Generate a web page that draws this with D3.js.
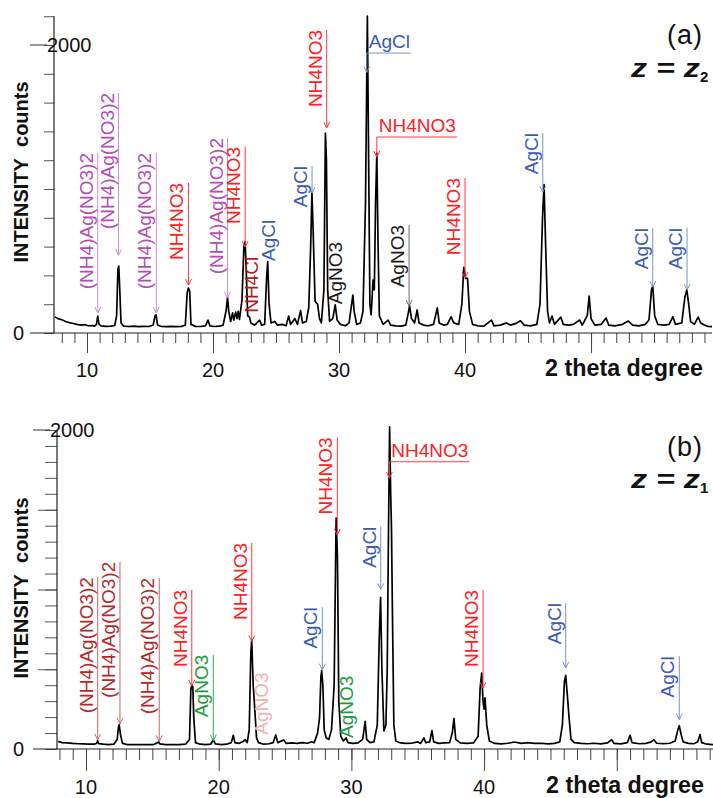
<!DOCTYPE html>
<html>
<head>
<meta charset="utf-8">
<script src="https://cdn.jsdelivr.net/npm/d3@7"></script>
<style>
  body { margin: 0; background: #fff; }
  svg { display: block; font-family: 'Liberation Sans', Arial, sans-serif; }
</style>
</head>
<body>
<svg id="chart" width="713" height="798"></svg>
<script>
// ---
// Data
// ---

// panel (a), z = z2 : [2 theta, counts]
const traceA = [
  [7.45, 112], [7.7, 100], [8.0, 92], [8.3, 80], [8.6, 72], [8.9, 66], [9.2, 60], [9.5, 55], [9.8, 58],
  [10.1, 50], [10.4, 52], [10.6, 48], [10.75, 60], [10.85, 118], [10.95, 62], [11.1, 50], [11.5, 46],
  [11.9, 48], [12.2, 52], [12.35, 120], [12.45, 440], [12.52, 465], [12.6, 300], [12.7, 70], [12.9, 48],
  [13.3, 45], [13.7, 48], [14.1, 44], [14.5, 46], [14.9, 45], [15.25, 55], [15.4, 120], [15.48, 125],
  [15.6, 55], [15.9, 45], [16.3, 44], [16.7, 46], [17.1, 44], [17.5, 46], [17.8, 55], [17.95, 280],
  [18.05, 312], [18.15, 290], [18.25, 60], [18.6, 46], [19.0, 45], [19.4, 50], [19.6, 90], [19.75, 50],
  [20.1, 45], [20.5, 48], [20.8, 55], [21.05, 160], [21.15, 250], [21.25, 150], [21.4, 80], [21.55, 140],
  [21.65, 90], [21.8, 145], [21.9, 100], [22.0, 150], [22.1, 95], [22.3, 230], [22.45, 600], [22.55, 634],
  [22.65, 400], [22.75, 120], [22.9, 110], [23.0, 70], [23.3, 55], [23.7, 90], [23.85, 55], [24.1, 60],
  [24.25, 380], [24.34, 495], [24.45, 200], [24.6, 70], [24.9, 80], [25.1, 55], [25.5, 60], [25.8, 50],
  [26.0, 118], [26.15, 60], [26.5, 100], [26.7, 60], [26.95, 155], [27.1, 70], [27.4, 80], [27.6, 180],
  [27.75, 600], [27.85, 975], [27.95, 700], [28.1, 220], [28.3, 200], [28.45, 100], [28.6, 70], [28.8, 300],
  [28.92, 1389], [29.0, 1200], [29.1, 300], [29.25, 80], [29.5, 100], [29.7, 195], [29.85, 90], [30.1, 60],
  [30.5, 50], [30.8, 70], [31.0, 200], [31.1, 264], [31.2, 150], [31.4, 60], [31.7, 70], [31.9, 150],
  [32.1, 900], [32.25, 2200], [32.35, 1200], [32.45, 200], [32.55, 125], [32.7, 368], [32.8, 300],
  [32.9, 900], [33.0, 1250], [33.1, 600], [33.2, 120], [33.5, 60], [33.9, 90], [34.1, 55], [34.5, 50],
  [34.9, 48], [35.3, 55], [35.5, 140], [35.6, 188], [35.75, 100], [36.0, 70], [36.2, 160], [36.35, 70],
  [36.7, 55], [37.1, 50], [37.5, 60], [37.8, 174], [37.95, 70], [38.3, 55], [38.6, 60], [38.9, 113],
  [39.1, 70], [39.5, 60], [39.75, 200], [39.9, 456], [40.05, 380], [40.2, 380], [40.35, 150], [40.6, 60],
  [41.0, 50], [41.5, 48], [42.1, 90], [42.3, 50], [42.8, 55], [43.3, 70], [43.6, 55], [44.0, 65],
  [44.4, 85], [44.7, 55], [45.2, 50], [45.7, 60], [45.95, 200], [46.15, 800], [46.27, 1030], [46.4, 600],
  [46.55, 150], [46.7, 70], [46.9, 118], [47.1, 60], [47.6, 110], [47.8, 60], [48.2, 55], [48.6, 60],
  [49.1, 90], [49.3, 55], [49.7, 120], [49.85, 257], [50.0, 100], [50.3, 55], [50.8, 60], [51.2, 104],
  [51.4, 55], [51.9, 50], [52.5, 60], [52.96, 83], [53.3, 55], [53.8, 50], [54.3, 60], [54.6, 90],
  [54.8, 300], [54.9, 326], [55.05, 120], [55.3, 60], [55.8, 55], [56.2, 60], [56.5, 113], [56.7, 60],
  [57.2, 70], [57.45, 250], [57.6, 299], [57.75, 200], [57.9, 80], [58.2, 60], [58.5, 111], [58.7, 70],
  [59.0, 55], [59.3, 45], [59.6, 44]
]

// panel (b), z = z1 : [2 theta, counts]
const traceB = [
  [7.9, 48], [8.2, 40], [8.6, 38], [9.0, 35], [9.4, 33], [9.8, 32], [10.2, 30], [10.6, 30], [10.8, 35],
  [10.88, 52], [10.96, 34], [11.3, 30], [11.7, 28], [12.1, 30], [12.35, 60], [12.45, 140], [12.5, 152],
  [12.6, 90], [12.75, 35], [13.1, 28], [13.6, 27], [14.1, 28], [14.6, 27], [15.1, 28], [15.4, 40],
  [15.48, 44], [15.56, 32], [16.0, 27], [16.5, 28], [17.0, 27], [17.5, 30], [17.8, 60], [17.9, 370],
  [17.97, 400], [18.05, 390], [18.12, 200], [18.25, 40], [18.6, 30], [19.0, 28], [19.4, 30], [19.6, 58],
  [19.75, 32], [20.2, 28], [20.6, 30], [20.95, 40], [21.1, 86], [21.22, 40], [21.5, 35], [21.8, 45],
  [22.0, 58], [22.15, 40], [22.3, 121], [22.42, 600], [22.49, 685], [22.6, 400], [22.72, 250], [22.85, 70],
  [23.0, 40], [23.4, 30], [23.8, 33], [24.1, 40], [24.3, 88], [24.45, 40], [24.9, 56], [25.1, 35],
  [25.5, 38], [25.9, 35], [26.3, 40], [26.7, 36], [27.0, 45], [27.2, 40], [27.45, 100], [27.6, 194],
  [27.7, 450], [27.76, 491], [27.85, 400], [27.95, 120], [28.1, 70], [28.3, 60], [28.5, 120], [28.7, 400],
  [28.85, 1448], [28.95, 1200], [29.05, 300], [29.2, 80], [29.4, 50], [29.6, 69], [29.75, 40], [30.1, 35],
  [30.5, 38], [30.85, 60], [31.04, 174], [31.15, 60], [31.4, 40], [31.7, 45], [31.95, 150], [32.1, 700],
  [32.2, 950], [32.3, 500], [32.45, 113], [32.6, 150], [32.7, 500], [32.8, 1400], [32.88, 2020],
  [32.96, 1600], [33.02, 1390], [33.1, 800], [33.2, 150], [33.35, 50], [33.7, 38], [34.1, 35], [34.5, 36],
  [35.0, 45], [35.2, 35], [35.47, 69], [35.6, 40], [35.9, 45], [36.07, 115], [36.2, 45], [36.6, 35],
  [37.0, 38], [37.4, 40], [37.6, 100], [37.73, 190], [37.86, 60], [38.2, 38], [38.7, 35], [39.2, 38],
  [39.55, 80], [39.7, 380], [39.82, 476], [39.92, 300], [40.0, 250], [40.07, 320], [40.2, 150], [40.4, 50],
  [40.8, 35], [41.3, 32], [41.8, 36], [42.3, 44], [42.8, 35], [43.3, 40], [43.8, 35], [44.3, 36],
  [44.8, 32], [45.3, 35], [45.7, 45], [45.9, 150], [46.05, 420], [46.15, 462], [46.28, 330], [46.4, 200],
  [46.55, 60], [46.8, 40], [47.3, 35], [47.8, 33], [48.3, 36], [48.8, 32], [49.3, 38], [49.6, 58],
  [49.8, 35], [50.3, 32], [50.8, 40], [51.0, 86], [51.15, 40], [51.7, 33], [52.2, 35], [52.6, 45],
  [52.8, 58], [53.0, 36], [53.5, 34], [54.0, 36], [54.4, 50], [54.6, 120], [54.71, 146], [54.85, 90],
  [55.0, 45], [55.4, 35], [55.8, 33], [56.1, 45], [56.27, 90], [56.4, 40], [56.8, 30], [57.25, 27]
]

// phase marks with a drop line: [label, phase, 2 theta, line top (counts), arrow tip (counts)]
const marksA = [
  ['(NH4)Ag(NO3)2', 'amn', 10.85, 1250, 139],
  ['(NH4)Ag(NO3)2', 'amn', 12.5, 1667, 540],
  ['(NH4)Ag(NO3)2', 'amn', 15.5, 1250, 139],
  ['NH4NO3', 'nit', 18.05, 1042, 333],
  ['(NH4)Ag(NO3)2', 'amn', 21.15, 1354, 243],
  ['NH4NO3', 'nit', 22.55, 1292, 597],
  ['AgCl', 'agcl', 27.86, 1160, 972],
  ['NH4NO3', 'nit', 29.02, 2104, 1424],
  ['AgNO3', 'agno', 35.56, 750, 188],
  ['NH4NO3', 'nit', 40.0, 1076, 382],
  ['AgCl', 'agcl', 46.17, 1389, 979],
  ['AgCl', 'agcl', 54.9, 729, 319],
  ['AgCl', 'agcl', 57.62, 729, 299]
]
const marksB = [
  ['(NH4)Ag(NO3)2', 'amnB', 10.88, 1078, 58],
  ['(NH4)Ag(NO3)2', 'amnB', 12.56, 1174, 157],
  ['(NH4)Ag(NO3)2', 'amnB', 15.52, 1072, 48],
  ['NH4NO3', 'nit', 17.97, 997, 395],
  ['AgNO3', 'agnoG', 19.59, 591, 52],
  ['NH4NO3', 'nit', 22.49, 1292, 675],
  ['AgCl', 'agcl', 27.81, 888, 497],
  ['NH4NO3', 'nit', 28.94, 1954, 1342],
  ['AgCl', 'agcl', 32.21, 1394, 1001],
  ['NH4NO3', 'nit', 39.92, 997, 382],
  ['AgCl', 'agcl', 46.15, 915, 508],
  ['AgCl', 'agcl', 54.71, 581, 184]
]

// horizontal flags: [label, phase, 2 theta, underline (counts), arrow tip (counts)]
const flagsA = [
  ['AgCl', 'agcl', 32.2, 1944, 1810],
  ['NH4NO3', 'nit', 33.0, 1361, 1222]
]
const flagsB = [
  ['NH4NO3', 'nit', 32.86, 1801, 1699]
]

// bare labels: [label, phase, 2 theta of baseline, bottom (counts)]
const tagsA = [
  ['NH4Cl', 'nh4cl', 23.6, 140],
  ['AgCl', 'agcl', 24.9, 500],
  ['AgNO3', 'agno', 30.2, 200]
]
const tagsB = [
  ['AgNO3', 'agnoP', 23.72, 90],
  ['AgNO3', 'agnoG', 30.12, 69]
]

const xMajor = [10, 20, 30, 40, 50]
const xLabels = [10, 20, 30, 40]

// ---
// Styles
// ---
const textColor = {
  nit: '#ff2121', agcl: '#3a5ab4', amn: '#b44cb4', amnB: '#b32a2a',
  agno: '#1a1a1a', agnoG: '#1c9c3a', agnoP: '#f4b2b2', nh4cl: '#b31818'
}
const lineColor = {
  nit: '#ff3b3b', agcl: '#7892cf', amn: '#d48cd4', amnB: '#c86868',
  agno: '#6a6a6a', agnoG: '#3aa856'
}

const svg = d3.select('#chart')

function drawPanel (p) {
  const g = svg.append('g')
  const x = d3.scaleLinear().domain(p.xDomain).range(p.xRange)
  const y = d3.scaleLinear().domain(p.yDomain).range(p.yRange)
  const x0 = p.xRange[0]
  const y0 = y(0)

  // y ticks
  g.append('g')
      .attr('transform', `translate(${x0},0)`)
      .call(d3.axisLeft(y).tickValues(p.yMinor).tickSize(p.yMinorLen).tickFormat('').tickSizeOuter(0))
      .call(a => a.select('.domain').remove())
      .call(a => a.selectAll('line').attr('stroke', '#555'))
  if (p.yMajor.length) {
    g.append('g')
        .attr('transform', `translate(${x0},0)`)
        .call(d3.axisLeft(y).tickValues(p.yMajor).tickSize(p.yMajorLen).tickFormat('').tickSizeOuter(0))
        .call(a => a.select('.domain').remove())
        .call(a => a.selectAll('line').attr('stroke', '#555'))
  }

  // x ticks
  const minor = d3.range(8, 60).filter(v => v > p.xDomain[0] && v < p.xDomain[1])
  g.append('g')
      .attr('transform', `translate(0,${y0})`)
      .call(d3.axisBottom(x).tickValues(minor).tickSize(p.xMinorLen).tickFormat('').tickSizeOuter(0))
      .call(a => a.select('.domain').remove())
      .call(a => a.selectAll('line').attr('stroke', '#444'))
  g.append('g')
      .attr('transform', `translate(0,${y0})`)
      .call(d3.axisBottom(x).tickValues(xMajor).tickSize(p.xMajorLen).tickFormat('').tickSizeOuter(0))
      .call(a => a.select('.domain').remove())
      .call(a => a.selectAll('line').attr('stroke', '#444'))

  // axis lines
  g.append('line')
      .attr('x1', x0).attr('x2', x0)
      .attr('y1', p.yRange[1]).attr('y2', y0)
      .attr('stroke', '#222').attr('stroke-width', 1.2)
  g.append('line')
      .attr('x1', p.axisStart).attr('x2', p.xRange[1])
      .attr('y1', y0).attr('y2', y0)
      .attr('stroke', '#222').attr('stroke-width', 1.2)
  g.append('line')
      .attr('x1', p.axisStart).attr('x2', p.axisStart + 17)
      .attr('y1', y(2000)).attr('y2', y(2000))
      .attr('stroke', '#333').attr('stroke-width', 1)

  // tick labels
  g.selectAll('.xlab')
    .data(xLabels)
    .enter()
      .append('text')
      .attr('x', d => x(d))
      .attr('y', y0 + p.xLabelDy)
      .attr('text-anchor', 'middle')
      .attr('font-size', 20)
      .attr('fill', '#111')
      .text(d => d)
  g.append('text')
      .attr('x', 13).attr('y', y0 + 7)
      .attr('font-size', 20).attr('fill', '#111')
      .text('0')
  g.append('text')
      .attr('x', p.axisStart + 17).attr('y', y(2000) + 7)
      .attr('font-size', 20).attr('fill', '#111')
      .text('2000')

  // axis titles
  g.append('text')
      .attr('x', p.xRange[1] - 9).attr('y', y0 + p.xLabelDy - 1)
      .attr('text-anchor', 'end')
      .attr('font-size', 23).attr('font-weight', 'bold').attr('fill', '#111')
      .attr('textLength', 158).attr('lengthAdjust', 'spacingAndGlyphs')
      .text('2 theta degree')
  g.append('text')
      .attr('transform', `translate(28,${p.titleY}) rotate(-90)`)
      .attr('text-anchor', 'middle')
      .attr('font-size', 20).attr('font-weight', 'bold').attr('fill', '#111')
      .text('INTENSITY\u00a0\u00a0counts')

  // panel tag
  g.append('text')
      .attr('x', 703).attr('y', p.tagY)
      .attr('text-anchor', 'end')
      .attr('font-size', 27).attr('fill', '#111')
      .attr('letter-spacing', 1)
      .text(p.tag)
  g.append('text')
      .attr('x', 631).attr('y', p.zY)
      .attr('font-size', 26).attr('font-weight', 'bold').attr('font-style', 'italic').attr('fill', '#111')
      .attr('textLength', 69).attr('lengthAdjust', 'spacingAndGlyphs')
      .text('z = z')
  g.append('text')
      .attr('x', 700).attr('y', p.zY + 5)
      .attr('font-size', 15).attr('font-weight', 'bold').attr('fill', '#111')
      .text(p.zSub)

  // trace
  g.append('path')
      .datum(p.trace)
      .attr('fill', 'none')
      .attr('stroke', '#000')
      .attr('stroke-width', 1.7)
      .attr('stroke-linejoin', 'round')
      .attr('d', d3.line().x(d => x(d[0])).y(d => y(d[1])))

  const arrow = (sel, lx, ty, color) => sel.append('path')
      .attr('d', `M${lx - 3},${ty - 6}L${lx},${ty}L${lx + 3},${ty - 6}`)
      .attr('fill', 'none').attr('stroke', color).attr('stroke-width', 1)

  // vertical marks
  p.marks.forEach(([label, phase, t, top, tip]) => {
    const lx = x(t)
    g.append('line')
        .attr('x1', lx).attr('x2', lx)
        .attr('y1', y(top)).attr('y2', y(tip))
        .attr('stroke', lineColor[phase]).attr('stroke-width', 1)
    arrow(g, lx, y(tip), lineColor[phase])
    g.append('text')
        .attr('transform', `translate(${lx - 5},${y(top)}) rotate(-90)`)
        .attr('text-anchor', 'end')
        .attr('font-size', 19)
        .attr('fill', textColor[phase])
        .text(label)
  })

  // horizontal flags
  p.flags.forEach(([label, phase, t, under, tip]) => {
    const lx = x(t)
    const uy = y(under)
    const txt = g.append('text')
        .attr('x', lx + 2).attr('y', uy - 5)
        .attr('font-size', 19)
        .attr('fill', textColor[phase])
        .text(label)
    const w = txt.node().getComputedTextLength()
    g.append('path')
        .attr('d', `M${lx + w + 3},${uy}H${lx}V${y(tip)}`)
        .attr('fill', 'none').attr('stroke', lineColor[phase]).attr('stroke-width', 1)
    arrow(g, lx, y(tip), lineColor[phase])
  })

  // bare tags
  p.tags.forEach(([label, phase, t, bottom]) => {
    g.append('text')
        .attr('transform', `translate(${x(t)},${y(bottom)}) rotate(-90)`)
        .attr('font-size', 19)
        .attr('fill', textColor[phase])
        .text(label)
  })
}

drawPanel({
  trace: traceA, marks: marksA, flags: flagsA, tags: tagsA,
  xDomain: [7.38, 59.6], xRange: [54, 712],
  yDomain: [0, 2200], yRange: [333, 16.2],
  yMinor: d3.range(0, 2201, 200), yMinorLen: 10, yMajor: [], yMajorLen: 0,
  xMinorLen: 10, xMajorLen: 20, xLabelDy: 44, axisStart: 30,
  titleY: 172, tag: '(a)', tagY: 44, zY: 77, zSub: '2'
})

drawPanel({
  trace: traceB, marks: marksB, flags: flagsB, tags: tagsB,
  xDomain: [7.815, 57.25], xRange: [57, 713],
  yDomain: [0, 2000], yRange: [749, 430],
  yMinor: d3.range(0, 2001, 100), yMinorLen: 12, yMajor: [500, 1000, 1500], yMajorLen: 19,
  xMinorLen: 11, xMajorLen: 22, xLabelDy: 45, axisStart: 33,
  titleY: 588, tag: '(b)', tagY: 456, zY: 488, zSub: '1'
})
</script>
</body>
</html>
